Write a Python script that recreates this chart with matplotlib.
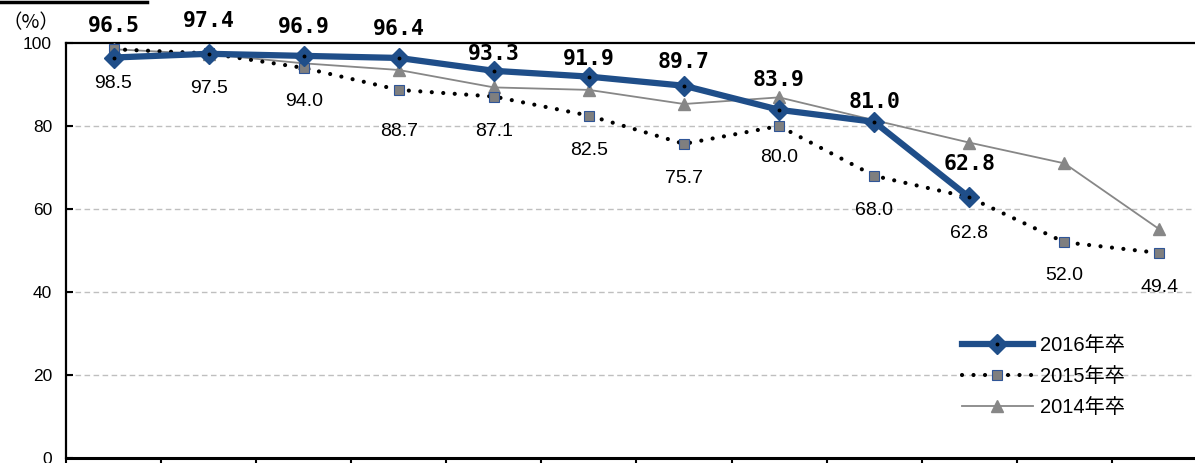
import numpy as np
import matplotlib.pyplot as plt
import matplotlib.lines as mlines
from matplotlib.legend_handler import HandlerTuple

plt.rcParams['font.family'] = ['Liberation Sans', 'Noto Sans CJK JP', 'DejaVu Sans']

# data
rate_2016 = [96.5, 97.4, 96.9, 96.4, 93.3, 91.9, 89.7, 83.9, 81.0, 62.8]
rate_2015 = [98.5, 97.5, 94.0, 88.7, 87.1, 82.5, 75.7, 80.0, 68.0, 62.8, 52.0, 49.4]
rate_2014 = [98.5, 97.3, 95.1, 93.5, 89.3, 88.7, 85.3, 86.9, 81.4, 76.0, 71.0, 55.1]
series_names = ['2016年卒', '2015年卒', '2014年卒']
y_ticks = [0, 20, 40, 60, 80, 100]

# label offsets in points (manual placement as in the original)
off_2016 = [23, 23.5, 21, 21, 12, 12.5, 17, 21.5, 14.5, 24]
off_2015 = [-25, -25, -24, -30, -25, -25, -25, -23, -25, -26, -24, -25]

x16 = np.arange(len(rate_2016))
x15 = np.arange(len(rate_2015))
x14 = np.arange(len(rate_2014))

fig = plt.figure(figsize=(11.95, 4.63), dpi=100)
ax = fig.add_axes([66 / 1195, 5 / 463, 1141 / 1195, 415 / 463])

blue = '#1F4E89'
gray = '#878787'

l14, = ax.plot(x14, rate_2014, color=gray, lw=1.3, marker='^', ms=9,
               mfc=gray, mec=gray, zorder=3)
l15, = ax.plot(x15, rate_2015, color='black', lw=3.0, ls=(0, (0.01, 2.75)),
               dash_capstyle='round', zorder=4)
m15, = ax.plot(x15, rate_2015, ls='none', marker='s', ms=7.5, mfc='#7F7F7F',
               mec='#2F5597', mew=0.8, zorder=5)
l16, = ax.plot(x16, rate_2016, color=blue, lw=4.5, marker='D', ms=10,
               mfc=blue, mec=blue, zorder=6)
d16, = ax.plot(x16, rate_2016, ls='none', marker='o', ms=1.8, color='black', zorder=7)

for x, v, o in zip(x16, rate_2016, off_2016):
    ax.annotate(f'{v:.1f}', (x, v), xytext=(0, o), textcoords='offset points',
                ha='center', va='center', fontsize=15.5, fontweight='bold',
                family='DejaVu Sans Mono', annotation_clip=False, zorder=8)
for x, v, o in zip(x15, rate_2015, off_2015):
    ax.annotate(f'{v:.1f}', (x, v), xytext=(0, o), textcoords='offset points',
                ha='center', va='center', fontsize=14, annotation_clip=False, zorder=8)

ax.set_xlim(-0.5, len(rate_2015) - 0.5)
ax.set_ylim(0, 100)
ax.set_yticks(y_ticks)
ax.set_yticklabels([str(t) for t in y_ticks], fontsize=12.5)
ax.set_xticks(np.arange(-0.5, len(rate_2015), 1.0))
ax.set_xticklabels([])
ax.tick_params(axis='y', direction='in', length=5, width=1.5, pad=10)
ax.tick_params(axis='x', direction='out', length=6, width=1.5)
for y in y_ticks[1:-1]:
    ax.axhline(y, color='#BFBFBF', lw=1.0, ls=(0, (4, 2.5)), zorder=1)
for s in ['left', 'top', 'right']:
    ax.spines[s].set_linewidth(1.6)
ax.spines['bottom'].set_linewidth(2.2)

fig.text(2 / 1195, 1 - 23 / 463, '（%）', fontsize=14, ha='left', va='center',
         family=['Noto Sans CJK JP', 'DejaVu Sans'])
fig.add_artist(mlines.Line2D([0, 147 / 1195], [1 - 2 / 463, 1 - 2 / 463],
                             color='black', lw=2.5))

leg = ax.legend([(l16, d16), (l15, m15), l14], series_names,
                handler_map={tuple: HandlerTuple(ndivide=1, pad=0)},
                loc='upper left', bbox_to_anchor=(944 / 1195, 1 - 318 / 463),
                bbox_transform=fig.transFigure, frameon=False, fontsize=14.5,
                handlelength=3.5, labelspacing=0.6, handletextpad=0.35)

fig.savefig('out.png', dpi=100)
